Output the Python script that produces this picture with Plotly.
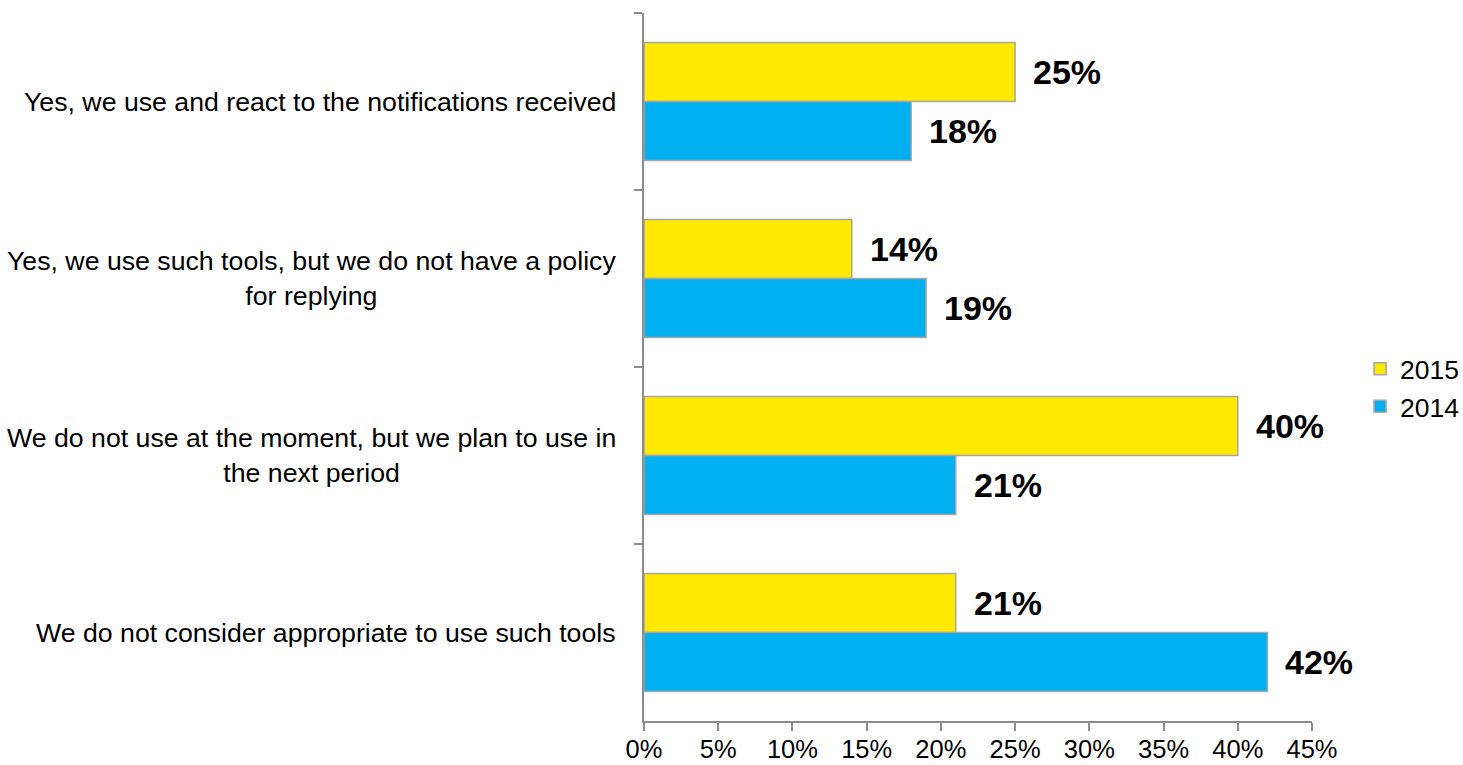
import plotly.graph_objects as go

# Survey answers (top to bottom) and share of respondents per year
categories = [
    "Yes, we use and react to the notifications received",
    "Yes, we use such tools, but we do not have a policy<br>for replying",
    "We do not use at the moment, but we plan to use in<br>the next period",
    "We do not consider appropriate to use such tools",
]
values_2015 = [0.25, 0.14, 0.40, 0.21]
values_2014 = [0.18, 0.19, 0.21, 0.42]
x_ticks = [0, 0.05, 0.10, 0.15, 0.20, 0.25, 0.30, 0.35, 0.40, 0.45]

FONT = "Liberation Sans, Arial, sans-serif"
AXIS_GREY = "#8C8C8C"
BAR_EDGE = "#A6A6A6"

W, H = 1463, 765
ML, MR, MT, MB = 644, 151, 13, 44
plot_w = W - ML - MR
plot_h = H - MT - MB

fig = go.Figure()
fig.add_trace(go.Bar(
    y=categories, x=values_2015, name="2015", orientation="h",
    marker=dict(color="#FFE900", line=dict(color=BAR_EDGE, width=1.5)),
))
fig.add_trace(go.Bar(
    y=categories, x=values_2014, name="2014", orientation="h",
    marker=dict(color="#00B0F0", line=dict(color=BAR_EDGE, width=1.5)),
))

annotations = []
# value labels at the end of each bar
for vals, shift in ((values_2015, 29.5), (values_2014, -29.5)):
    for cat, v in zip(categories, vals):
        annotations.append(dict(
            x=v, y=cat, xref="x", yref="y", text=f"{v * 100:.0f}%",
            showarrow=False, xanchor="left", yanchor="middle",
            xshift=16, yshift=shift,
            font=dict(family=FONT, size=34, color="#000000", weight="bold"),
        ))
# category labels, centred lines, to the left of the axis
for cat in categories:
    annotations.append(dict(
        x=-(ML - 618) / plot_w, y=cat, xref="paper", yref="y", text=cat,
        showarrow=False, xanchor="right", yanchor="middle", align="center",
        font=dict(family=FONT, size=26.7, color="#000000"),
    ))

fig.update_layout(
    width=W, height=H,
    margin=dict(l=ML, r=MR, t=MT, b=MB, autoexpand=False),
    paper_bgcolor="white", plot_bgcolor="white",
    barmode="group", bargap=0.333, bargroupgap=0,
    font=dict(family=FONT, size=26.5, color="#000000"),
    showlegend=True,
    legend=dict(
        x=1.072, xanchor="left", y=(MT + plot_h - 345) / plot_h, yanchor="top",
        font=dict(family=FONT, size=26.5, color="#000000"),
        bgcolor="rgba(0,0,0,0)", tracegroupgap=0,
    ),
    annotations=annotations,
)
fig.update_xaxes(
    range=[0, 0.45], tickvals=x_ticks, tickformat=".0%",
    showgrid=False, zeroline=False, automargin=False,
    showline=True, linecolor=AXIS_GREY, linewidth=1.5,
    ticks="outside", ticklen=8, tickcolor=AXIS_GREY, tickwidth=1.5,
    ticklabelstandoff=-3,
    tickfont=dict(family=FONT, size=25.5, color="#000000"),
)
fig.update_yaxes(
    autorange="reversed", showticklabels=False, showgrid=False,
    automargin=False,
    showline=True, linecolor=AXIS_GREY, linewidth=1.5,
    ticks="outside", ticklen=8, tickcolor=AXIS_GREY, tickwidth=1.5,
    tickson="boundaries",
)

fig.write_html("out.html")
